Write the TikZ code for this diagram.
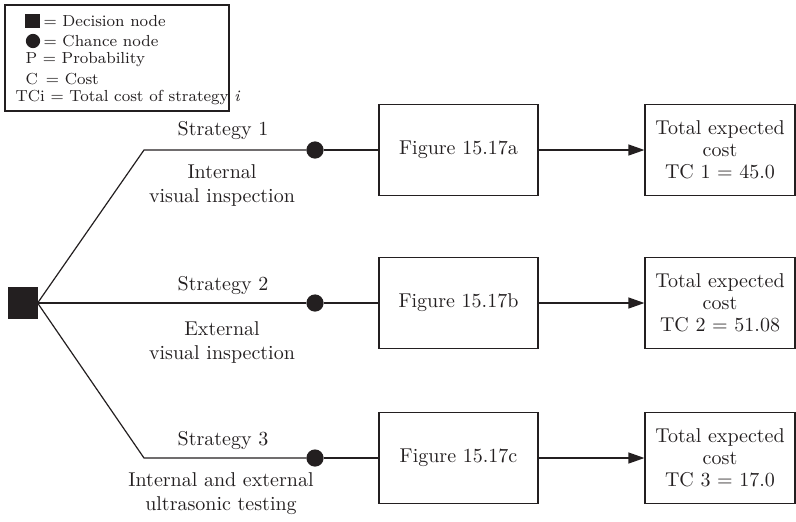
\documentclass[tikz,border=0pt]{standalone}
\usepackage{tikz}
\usetikzlibrary{arrows.meta}

\definecolor{ink}{RGB}{35,31,32}

\begin{document}
\begin{tikzpicture}[x=0.5pt, y=-0.5pt, line width=0.6pt, draw=ink, text=ink,
    >={Triangle[length=8pt, width=5.5pt]},
    decision/.style = {draw, fill=ink, minimum width=14pt, minimum height=15pt, inner sep=0pt},
    chance/.style = {draw, circle, fill=ink, minimum size=8pt, inner sep=0pt},
    figbox/.style = {draw, minimum width=79.5pt, minimum height=45.5pt},
    costbox/.style = {draw, minimum width=75pt, minimum height=45.5pt, align=center, font=\fontsize{10}{11}\selectfont},
    keytext/.style = {anchor=west, inner sep=0pt, font=\fontsize{8}{9.5}\selectfont}]

    \useasboundingbox (0,0) rectangle (796,521);

    % key
    \draw (5,5) rectangle (229,111);
    \node[decision, minimum width=6.5pt, minimum height=6pt] (kd) at (32.5,21) {};
    \node[chance, minimum size=6.5pt] (kc) at (33,41) {};
    \node[keytext] (kd text) at (43,21) {= Decision node};
    \node[keytext] (kc text) at (43,41) {= Chance node};
    \node[keytext] (kp) at (25,60) {P\ = Probability};
    \node[keytext] (kcost) at (25,79) {C\enspace= Cost};
    \node[keytext] (ktc) at (15,97) {TCi = Total cost of strategy \textit{i}};

    % tree
    \node[decision] (dec) at (23,303) {};
    \coordinate (e1) at (144,150);
    \coordinate (e3) at (144,458);
    \node[chance] (c1) at (315,150) {};
    \node[chance] (c2) at (315,303) {};
    \node[chance] (c3) at (315,458) {};
    \node[figbox] (f1) at (458.5,150) {Figure 15.17a};
    \node[figbox] (f2) at (458.5,303) {Figure 15.17b};
    \node[figbox] (f3) at (458.5,458) {Figure 15.17c};
    \node[costbox] (tc1) at (720,150) {Total expected\\cost\\TC 1 = 45.0};
    \node[costbox] (tc2) at (720,303) {Total expected\\cost\\TC 2 = 51.08};
    \node[costbox] (tc3) at (720,458) {Total expected\\cost\\TC 3 = 17.0};

    \node (s1) at (223,131) {Strategy 1};
    \node (s2) at (223,285) {Strategy 2};
    \node (s3) at (223,440) {Strategy 3};
    \node[align=center] (d1) at (222,185) {Internal\\visual inspection};
    \node[align=center] (d2) at (222,342) {External\\visual inspection};
    \node[align=center] (d3) at (221,494) {Internal and external\\ultrasonic testing};

    \draw (dec.east) -- (e1) -- (c1);
    \draw (dec.east) -- (c2);
    \draw (dec.east) -- (e3) -- (c3);
    \draw (c1) -- (f1);
    \draw (c2) -- (f2);
    \draw (c3) -- (f3);
    \draw[->] (f1) -- (tc1);
    \draw[->] (f2) -- (tc2);
    \draw[->] (f3) -- (tc3);

\end{tikzpicture}
\end{document}
